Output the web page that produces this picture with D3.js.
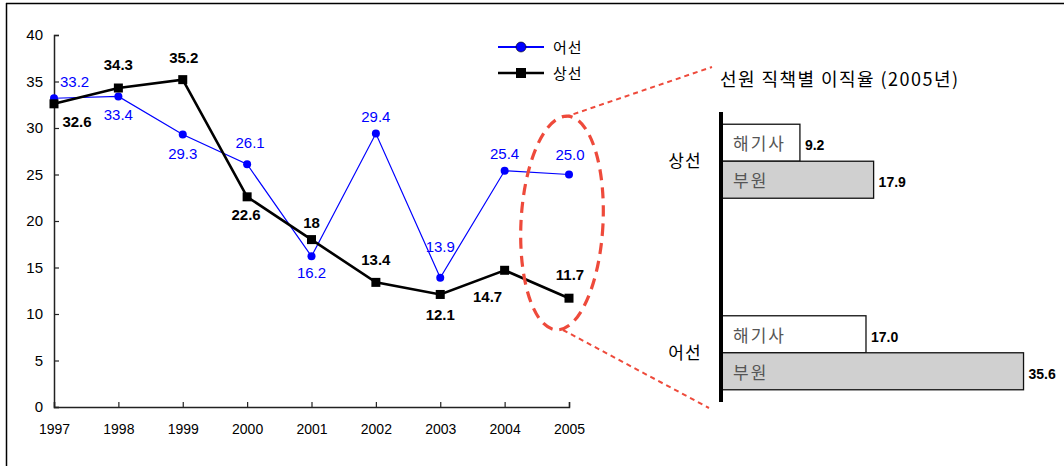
<!DOCTYPE html>
<html>
<head>
<meta charset="utf-8">
<script src="https://cdn.jsdelivr.net/npm/d3@7/dist/d3.min.js"></script>
<style>
  html, body { margin: 0; padding: 0; background: #fff; }
  svg { display: block; }
  text { font-family: "Liberation Sans", Arial, sans-serif; }
  .ko { font-family: "Noto Sans CJK KR", "Noto Sans", sans-serif; }
</style>
</head>
<body>
<svg id="chart" width="1064" height="466"></svg>
<script>
// Turnover rate of seafarers by year (%)
const years = ["1997", "1998", "1999", "2000", "2001", "2002", "2003", "2004", "2005"];
const fishingValues = [33.2, 33.4, 29.3, 26.1, 16.2, 29.4, 13.9, 25.4, 25.0];   // 어선
const merchantValues = [32.6, 34.3, 35.2, 22.6, 18, 13.4, 12.1, 14.7, 11.7];    // 상선
const fishingLabels = ["33.2", "33.4", "29.3", "26.1", "16.2", "29.4", "13.9", "25.4", "25.0"];
const merchantLabels = ["32.6", "34.3", "35.2", "22.6", "18", "13.4", "12.1", "14.7", "11.7"];
const yTicks = [0, 5, 10, 15, 20, 25, 30, 35, 40];

// 2005 turnover by position
const shipTypes = ["상선", "어선"];
const positions = ["해기사", "부원"];
const officerValues = [9.2, 17.0];
const crewValues = [17.9, 35.6];
const barTitle = "선원 직책별 이직율 (2005년)";

// label placement offsets [dx, dy, anchor] relative to each point
const fishingLabelOffsets = [[6, -11, "start"], [0, 24, "middle"], [0, 24, "middle"], [3, -16, "middle"], [0, 22, "middle"], [0, -12, "middle"], [0, -26, "middle"], [0, -12, "middle"], [1, -15, "middle"]];
const merchantLabelOffsets = [[23, 23, "middle"], [0, -18, "middle"], [1, -17, "middle"], [-1, 23, "middle"], [0, -12, "middle"], [0, -17, "middle"], [0, 26, "middle"], [-17, 32, "middle"], [1, -18, "middle"]];

const svg = d3.select("#chart");

// frame lines
svg.append("line").attr("x1", 6).attr("x2", 1064).attr("y1", 3.5).attr("y2", 3.5)
  .attr("stroke", "#000").attr("stroke-width", 1.5);
svg.append("line").attr("x1", 6.5).attr("x2", 6.5).attr("y1", 3).attr("y2", 466)
  .attr("stroke", "#000").attr("stroke-width", 1.5);

// ---------- line chart ----------
const x = d3.scalePoint().domain(years).range([54, 569]);
const y = d3.scaleLinear().domain([0, 40]).range([407, 35]);

const yAxis = svg.append("g").attr("transform", "translate(54,0)")
  .call(d3.axisLeft(y).tickValues(yTicks).tickSize(-5).tickPadding(11).tickFormat(d3.format("d")));
yAxis.selectAll("text").attr("font-size", 15).attr("fill", "#000")
  .style("font-family", "'Liberation Sans', Arial, sans-serif");
const xAxis = svg.append("g").attr("transform", "translate(0,407)")
  .call(d3.axisBottom(x).tickSize(-5).tickPadding(17));
xAxis.selectAll("text").attr("font-size", 14).attr("fill", "#000")
  .style("font-family", "'Liberation Sans', Arial, sans-serif");
[yAxis, xAxis].forEach(a => {
  a.select(".domain").attr("stroke", "#222").attr("stroke-width", 1.5);
  a.selectAll(".tick line").attr("stroke", "#222").attr("stroke-width", 1.2);
});

const line = d3.line().x((d, i) => x(years[i])).y(d => y(d));

// fishing vessels (blue)
svg.append("path").datum(fishingValues).attr("d", line)
  .attr("fill", "none").attr("stroke", "#0000ff").attr("stroke-width", 1.2);
svg.selectAll(".fpt").data(fishingValues).join("circle").attr("class", "fpt")
  .attr("cx", (d, i) => x(years[i])).attr("cy", d => y(d)).attr("r", 4).attr("fill", "#0000ff");

// merchant vessels (black)
svg.append("path").datum(merchantValues).attr("d", line)
  .attr("fill", "none").attr("stroke", "#000").attr("stroke-width", 2.6);
svg.selectAll(".mpt").data(merchantValues).join("rect").attr("class", "mpt")
  .attr("x", (d, i) => x(years[i]) - 4.5).attr("y", d => y(d) - 4.5)
  .attr("width", 9).attr("height", 9).attr("fill", "#000");

svg.selectAll(".flab").data(fishingValues).join("text").attr("class", "flab")
  .attr("x", (d, i) => x(years[i]) + fishingLabelOffsets[i][0])
  .attr("y", (d, i) => y(d) + fishingLabelOffsets[i][1])
  .attr("text-anchor", (d, i) => fishingLabelOffsets[i][2])
  .attr("font-size", 15).attr("fill", "#0000ff")
  .text((d, i) => fishingLabels[i]);

svg.selectAll(".mlab").data(merchantValues).join("text").attr("class", "mlab")
  .attr("x", (d, i) => x(years[i]) + merchantLabelOffsets[i][0])
  .attr("y", (d, i) => y(d) + merchantLabelOffsets[i][1])
  .attr("text-anchor", (d, i) => merchantLabelOffsets[i][2])
  .attr("font-size", 15).attr("font-weight", "bold").attr("fill", "#000")
  .text((d, i) => merchantLabels[i]);

// legend
const legend = [{ name: "어선", color: "#0000ff", w: 1.8, mark: "circle" },
                { name: "상선", color: "#000", w: 2.6, mark: "rect" }];
legend.forEach((l, i) => {
  const g = svg.append("g").attr("transform", `translate(0,${47 + i * 26})`);
  g.append("line").attr("x1", 498).attr("x2", 544).attr("stroke", l.color).attr("stroke-width", l.w);
  if (l.mark === "circle") g.append("circle").attr("cx", 521).attr("r", 5).attr("fill", l.color).attr("stroke", "#000").attr("stroke-width", 0.6);
  else g.append("rect").attr("x", 516).attr("y", -5).attr("width", 10).attr("height", 10).attr("fill", l.color);
  g.append("text").attr("class", "ko").attr("x", 553).attr("y", 6).attr("font-size", 15)
    .attr("letter-spacing", 1).attr("fill", "#000").text(l.name);
});

// ---------- highlight ellipse and connectors ----------
const red = "#ee4a3b";
svg.append("ellipse").attr("cx", 562).attr("cy", 223).attr("rx", 41).attr("ry", 107)
  .attr("transform", "rotate(3,562,223)")
  .attr("fill", "none").attr("stroke", red).attr("stroke-width", 3.2).attr("stroke-dasharray", "11,7");
svg.append("line").attr("x1", 565).attr("y1", 117).attr("x2", 712).attr("y2", 67)
  .attr("stroke", red).attr("stroke-width", 2).attr("stroke-dasharray", "5,4");
svg.append("line").attr("x1", 563).attr("y1", 330).attr("x2", 709).attr("y2", 408)
  .attr("stroke", red).attr("stroke-width", 2).attr("stroke-dasharray", "5,4");

// ---------- 2005 bar chart ----------
svg.append("text").attr("class", "ko").attr("x", 720).attr("y", 86).attr("font-size", 18)
  .attr("textLength", 238).attr("lengthAdjust", "spacing")
  .attr("fill", "#000").text(barTitle);

const gy = d3.scalePoint().domain(shipTypes).range([112, 402]).padding(0.257);
const bx = d3.scaleLinear().domain([0, 40]).range([722, 1060.8]);
const barH = 37;

const rows = [];
shipTypes.forEach((t, i) => {
  rows.push({ type: t, pos: positions[0], value: officerValues[i], y0: gy(t) - barH, fill: "#fff" });
  rows.push({ type: t, pos: positions[1], value: crewValues[i], y0: gy(t), fill: "#d0d0d0" });
});

svg.selectAll(".bar").data(rows).join("rect").attr("class", "bar")
  .attr("x", bx(0)).attr("y", d => d.y0)
  .attr("width", d => bx(d.value) - bx(0)).attr("height", barH)
  .attr("fill", d => d.fill).attr("stroke", "#111").attr("stroke-width", 1.3);

svg.selectAll(".blab").data(rows).join("text").attr("class", "blab ko")
  .attr("x", 733).attr("y", d => d.y0 + 26)
  .attr("font-size", 17).attr("letter-spacing", 2).attr("fill", "#555").text(d => d.pos);

svg.selectAll(".bval").data(rows).join("text").attr("class", "bval")
  .attr("x", d => bx(d.value) + 5).attr("y", d => d.y0 + 26)
  .attr("font-size", 14).attr("font-weight", "bold").attr("fill", "#000")
  .text(d => d.value.toFixed(1));

svg.selectAll(".gl").data(shipTypes).join("text").attr("class", "gl ko")
  .attr("x", 685).attr("y", d => gy(d) + 6).attr("text-anchor", "middle")
  .attr("font-size", 17).attr("letter-spacing", 1).attr("fill", "#000").text(d => d);

svg.append("line").attr("x1", 721).attr("x2", 721).attr("y1", 112).attr("y2", 402)
  .attr("stroke", "#000").attr("stroke-width", 4);
</script>
</body>
</html>
